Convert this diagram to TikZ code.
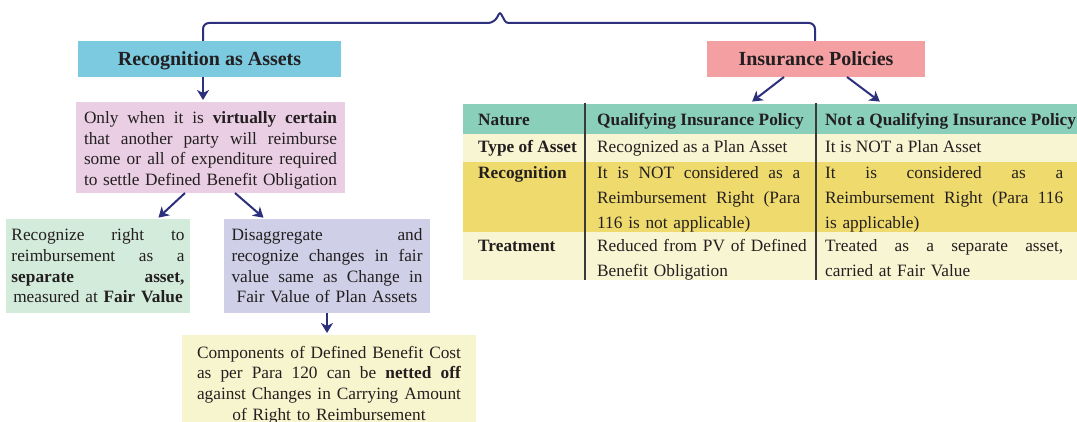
\documentclass[tikz,border=0pt]{standalone}
\usepackage{fontspec}
\setmainfont{Liberation Serif}
\usetikzlibrary{arrows.meta,calc}
\definecolor{txt}{HTML}{231F20}
\definecolor{navy}{HTML}{2C2F7C}
\definecolor{cblue}{HTML}{7BCAE0}
\definecolor{cpink}{HTML}{F4A0A3}
\definecolor{ccond}{HTML}{EACFE4}
\definecolor{cgreen}{HTML}{D3EBDA}
\definecolor{clav}{HTML}{CFCFE8}
\definecolor{cyel}{HTML}{F7F5CE}
\definecolor{thead}{HTML}{8ACFB9}
\definecolor{tcream}{HTML}{F8F5D2}
\definecolor{tgold}{HTML}{EFDB6D}
\definecolor{tdiv}{HTML}{3A3A3A}
\newcommand{\jl}[1]{{\spaceskip=0pt\xspaceskip=0pt\makebox[\hsize][s]{#1}}}
\begin{document}
\begin{tikzpicture}[x=1pt,y=-1pt,
  font=\fontsize{17.3}{20.6}\selectfont, text=txt,
  box/.style={inner sep=0pt, outer sep=0pt, align=center},
  title/.style={font=\fontsize{20}{24}\selectfont\bfseries, inner sep=0pt, outer sep=0pt, minimum height=36pt, text height=14pt, text depth=1pt},
  arr/.style={draw=navy, line width=2pt, -{Stealth[length=10pt,width=12pt,inset=3pt]}, shorten >=2pt},
  brace/.style={draw=navy, line width=2pt},
  tabrow/.style={minimum width=614pt, inner sep=0pt, outer sep=0pt},
  tdivider/.style={draw=tdiv, line width=1.4pt},
  cell/.style={inner sep=0pt, anchor=west, font=\fontsize{17.3}{25}\selectfont, text height=12pt, text depth=3pt},
  bcell/.style={cell, font=\fontsize{17.3}{25}\selectfont\bfseries},
  mcell/.style={inner sep=0pt, anchor=north west, align=left, font=\fontsize{17.3}{25}\selectfont},
  bmcell/.style={mcell, font=\fontsize{17.3}{25}\selectfont\bfseries}]
\useasboundingbox (0,0) rectangle (1077,422);
\clip (0,0) rectangle (1077,422);

% headers
\node[title, fill=cblue, minimum width=263pt] (ra) at (209.5,59) {Recognition as Assets};
\node[title, fill=cpink, minimum width=218pt] (ip) at (816,59) {Insurance Policies};

% left boxes
\node[box, fill=ccond, minimum width=269pt, minimum height=91pt, text width=253pt] (cond) at (210.5,147.5)
  {\rule{0pt}{17.5pt}\jl{Only when it is \textbf{virtually certain}}\\ \jl{that another party will reimburse}\\ \jl{some or all of expenditure required}\\ \jl{to settle Defined Benefit Obligation}};
\node[box, fill=cgreen, minimum width=184pt, minimum height=94pt, text width=173pt] (sep) at (98,266)
  {\jl{Recognize right to}\\ \jl{reimbursement as a}\\ \jl{\textbf{separate asset,}}\\ measured at \textbf{Fair Value}};
\node[box, fill=clav, minimum width=206pt, minimum height=94pt, text width=191pt] (lav) at (327,266)
  {\jl{Disaggregate and}\\ \jl{recognize changes in fair}\\ \jl{value same as Change in}\\ Fair Value of Plan Assets};
\node[box, fill=cyel, minimum width=294pt, minimum height=100pt, text width=264pt] (yel) at (329,385)
  {\jl{Components of Defined Benefit Cost}\\ \jl{as per Para 120 can be \textbf{netted off}}\\ \jl{against Changes in Carrying Amount}\\ of Right to Reimbursement};

% table rows
\node[tabrow, fill=thead, minimum height=30pt] (hdr) at (770,119) {};
\node[tabrow, fill=tcream, minimum height=28pt] (r2) at (770,148) {};
\node[tabrow, fill=tgold, minimum height=70pt] (r3) at (770,197) {};
\node[tabrow, fill=tcream, minimum height=48pt] (r4) at (770,256) {};
\coordinate (d1) at (585,103);
\coordinate (d2) at (816,103);
\draw[tdivider] (d1) -- (r4.south -| d1);
\draw[tdivider] (d2) -- (r4.south -| d2);

% table text
\node[bcell] (h1) at (478,121.5) {Nature};
\node[bcell] (h2) at (597,121.5) {Qualifying Insurance Policy};
\node[bcell] (h3) at (825,121.5) {Not a Qualifying Insurance Policy};
\node[bcell] (t1) at (478,148.5) {Type of Asset};
\node[cell] (t2) at (597,148.5) {Recognized as a Plan Asset};
\node[cell] (t3) at (825,148.5) {It is NOT a Plan Asset};
\node[bmcell] (g1) at (478,160.5) {\strut Recognition};
\node[mcell, text width=203pt] (g2) at (597,160.5)
  {\strut\jl{It is NOT considered as a}\\ \jl{Reimbursement Right (Para}\\ 116 is not applicable)};
\node[mcell, text width=238pt] (g3) at (825,160.5)
  {\strut\jl{It is considered as a}\\ \jl{Reimbursement Right (Para 116}\\ is applicable)};
\node[bmcell] (m1) at (478,234) {\strut Treatment};
\node[mcell, text width=216pt] (m2) at (597,234)
  {\strut Reduced from PV of Defined\\ Benefit Obligation};
\node[mcell, text width=238pt] (m3) at (825,234)
  {\strut\jl{Treated as a separate asset,}\\ carried at Fair Value};

% bracket
\coordinate (bl) at ([xshift=-6.5pt]ra.north);
\coordinate (br) at ([xshift=-1pt]ip.north);
\coordinate (bar) at (0,23);
\coordinate (peak) at (500,12);
\coordinate (p1) at (494,23);
\coordinate (p2) at (506,23);
\draw[brace] (bl) [rounded corners=6pt] -- (bl |- bar) -- (p1) [rounded corners=2.5pt] -- (peak) -- (p2) [rounded corners=6pt] -- (br |- bar) -- (br);

% arrows
\coordinate (a1) at ([xshift=-6.5pt]ra.south);
\draw[arr] (a1) -- (a1 |- cond.north);
\draw[arr, shorten >=4pt] ([xshift=-32pt]ip.south) -- ($(hdr.north -| ip.south)+(-67,0)$);
\draw[arr, shorten >=4pt] ([xshift=31pt]ip.south) -- ($(hdr.north -| ip.south)+(67,0)$);
\draw[arr] ([xshift=-25.5pt]cond.south) -- ([xshift=-33pt]sep.north east);
\draw[arr] ([xshift=24.5pt]cond.south) -- ([xshift=41pt]lav.north west);
\draw[arr] (lav.south) -- (lav.south |- yel.north);
\end{tikzpicture}
\end{document}
